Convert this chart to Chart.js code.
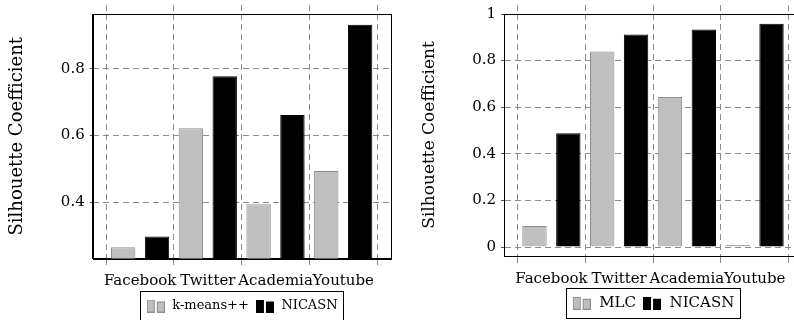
<!DOCTYPE html>
<html>
<head>
<meta charset="utf-8">
<script src="https://cdn.jsdelivr.net/npm/chart.js@4.4.0/dist/chart.umd.min.js"></script>
<style>
html, body { margin: 0; padding: 0; background: #fff; overflow: hidden; width: 794px; height: 320px; }
.panel { position: absolute; top: 0; }
</style>
</head>
<body>
<div class="panel" style="left:0"><canvas id="leftChart" width="400" height="330"></canvas></div>
<div class="panel" style="left:400px"><canvas id="rightChart" width="410" height="330"></canvas></div>
<script>
// data
var categories = ['Facebook', 'Twitter', 'Academia', 'Youtube'];
var kmeansValues = [0.265, 0.622, 0.394, 0.494];
var nicasnLeft = [0.297, 0.778, 0.662, 0.933];
var mlcValues = [0.09, 0.839, 0.644, 0.009];
var nicasnRight = [0.488, 0.912, 0.934, 0.958];
var leftYTicks = [0.4, 0.6, 0.8];
var rightYTicks = [0, 0.2, 0.4, 0.6, 0.8, 1];

Chart.defaults.font.family = 'DejaVu Serif';
Chart.defaults.color = '#000';

var GRID = '#8c8c8c';
var DASH = [6, 4];
var GRAY = '#bfbfbf';
var GRAY_EDGE = '#8c8c8c';

function makeIcon(fill, stroke) {
    var c = document.createElement('canvas');
    c.width = 18; c.height = 13;
    var g = c.getContext('2d');
    g.fillStyle = fill; g.strokeStyle = stroke; g.lineWidth = 1;
    g.fillRect(0.5, 0.5, 7, 12); g.strokeRect(0.5, 0.5, 7, 12);
    g.fillRect(10.5, 2.5, 7, 10); g.strokeRect(10.5, 2.5, 7, 10);
    return c;
}
var icons = [makeIcon(GRAY, GRAY_EDGE), makeIcon('#000', '#000')];

var bounds = categories.map(function (c, i) { return i; }).concat(categories.length);

function toPoints(values) {
    return values.map(function (v, i) { return { x: i + 0.5, y: v }; });
}

var framePlugin = {
    id: 'frame',
    afterDatasetsDraw: function (chart) {
        var a = chart.chartArea, ctx = chart.ctx;
        ctx.save();
        ctx.strokeStyle = '#000';
        ctx.lineWidth = 1;
        ctx.strokeRect(Math.round(a.left) + 0.5, Math.round(a.top) + 0.5,
            Math.round(a.right - a.left), Math.round(a.bottom - a.top));
        ctx.restore();
    }
};

var legendBoxPlugin = {
    id: 'legendBox',
    afterDraw: function (chart) {
        var boxes = chart.legend.legendHitBoxes;
        if (!boxes || !boxes.length) return;
        var l = Infinity, r = -Infinity;
        boxes.forEach(function (b) { l = Math.min(l, b.left); r = Math.max(r, b.left + b.width); });
        var cy = boxes[0].top + boxes[0].height / 2;
        var ctx = chart.ctx;
        ctx.save();
        ctx.strokeStyle = '#000';
        ctx.lineWidth = 1;
        ctx.strokeRect(Math.round(l - 6) + 0.5, Math.round(cy - 15) + 0.5, Math.round(r - l + 11), 30);
        ctx.restore();
    }
};

function makeChart(id, o) {
    var ctx = document.getElementById(id).getContext('2d');
    return new Chart(ctx, {
        type: 'bar',
        data: {
            datasets: [{
                label: o.names[0],
                data: toPoints(o.first),
                backgroundColor: GRAY,
                borderColor: GRAY_EDGE,
                borderWidth: 1
            }, {
                label: o.names[1],
                data: toPoints(o.second),
                backgroundColor: '#000',
                borderColor: '#000',
                borderWidth: 1
            }]
        },
        options: {
            responsive: false,
            animation: false,
            categoryPercentage: 1.0,
            barPercentage: 0.72,
            layout: { padding: o.padding },
            plugins: {
                tooltip: { enabled: false },
                legend: {
                    position: 'bottom',
                    fullSize: false,
                    labels: {
                        usePointStyle: true,
                        pointStyleWidth: 20,
                        padding: 6,
                        font: { size: o.legendSize },
                        color: '#000',
                        generateLabels: function (chart) {
                            return chart.data.datasets.map(function (d, i) {
                                return {
                                    text: d.label, pointStyle: icons[i], fillStyle: d.backgroundColor,
                                    strokeStyle: d.borderColor, lineWidth: 0, hidden: false,
                                    datasetIndex: i, fontColor: '#000'
                                };
                            });
                        }
                    }
                }
            },
            scales: {
                x: {
                    type: 'linear', position: 'bottom', min: -0.2, max: 4.2, offset: false,
                    afterBuildTicks: function (s) { s.ticks = bounds.map(function (v) { return { value: v }; }); },
                    afterFit: function (s) { s.height = o.xHeight; },
                    grid: { offset: false, color: GRID, drawTicks: true, tickLength: 10, tickColor: GRID, tickBorderDash: DASH },
                    border: { display: true, color: '#000', dash: DASH },
                    ticks: {
                        autoSkip: false, maxRotation: 0, minRotation: 0, padding: 4, labelOffset: 33.9,
                        font: { size: 15 }, color: '#000',
                        callback: function (v, i) { return categories[i] || ''; }
                    }
                },
                xTop: {
                    type: 'linear', position: 'top', min: -0.2, max: 4.2, offset: false,
                    afterBuildTicks: function (s) { s.ticks = bounds.map(function (v) { return { value: v }; }); },
                    grid: { offset: false, color: GRID, drawOnChartArea: false, drawTicks: true, tickLength: 9, tickColor: GRID, tickBorderDash: DASH },
                    border: { display: false },
                    ticks: { display: false }
                },
                y: {
                    type: 'linear', min: o.yMin, max: o.yMax,
                    afterBuildTicks: function (s) { s.ticks = o.yTicks.map(function (v) { return { value: v }; }); },
                    afterFit: function (s) { s.width = o.yWidth; },
                    grid: { color: GRID, drawTicks: true, tickLength: 3, tickColor: '#555' },
                    border: { display: true, color: '#000', dash: DASH },
                    ticks: { padding: 5, font: { size: 15 }, color: '#000', callback: function (v) { return String(v); } },
                    title: { display: true, text: 'Silhouette Coefficient', font: { size: o.titleSize }, color: '#000', padding: { top: o.titlePad, bottom: 0 } }
                }
            }
        },
        plugins: [framePlugin, legendBoxPlugin]
    });
}

window.onload = function () {
    makeChart('leftChart', {
        names: ['k-means++', 'NICASN'], first: kmeansValues, second: nicasnLeft,
        yMin: 0.231, yMax: 0.965, yTicks: leftYTicks, yWidth: 92.7,
        padding: { top: 5, right: 9.4, bottom: 7.5, left: 0 },
        xHeight: 35, legendSize: 13, titleSize: 18, titlePad: 6.7
    });
    makeChart('rightChart', {
        names: ['MLC', 'NICASN'], first: mlcValues, second: nicasnRight,
        yMin: -0.0385, yMax: 1.0, yTicks: rightYTicks, yWidth: 104,
        padding: { top: 4.3, right: 8, bottom: 9.3, left: 0 },
        xHeight: 33.7, legendSize: 15, titleSize: 17, titlePad: 19.8
    });
};
</script>
</body>
</html>
